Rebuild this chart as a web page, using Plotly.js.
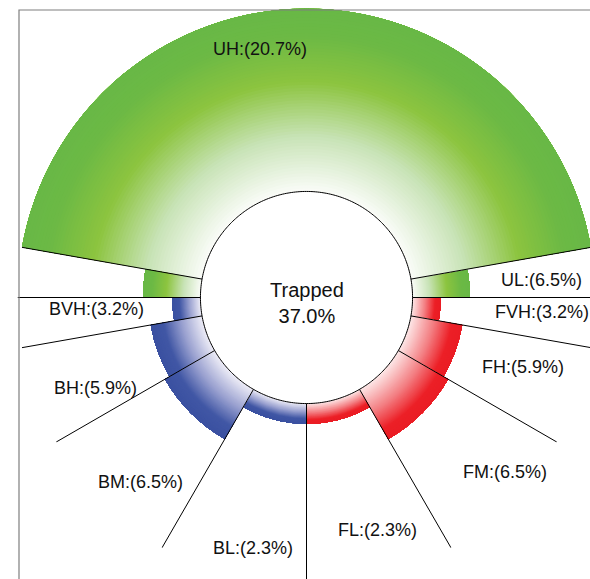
<!DOCTYPE html>
<html><head><meta charset="utf-8">
<script src="https://cdn.plot.ly/plotly-3.0.1.min.js"></script>
<style>html,body{margin:0;padding:0;overflow:hidden;background:#fff}#chart{width:600px;height:590px}</style>
</head><body><div id="chart"></div>
<script>
// ---------- data ----------
const categories = ['UH','UL','FVH','FH','FM','FL','BL','BM','BH','BVH'];
const percents   = [20.7, 6.5, 3.2, 5.9, 6.5, 2.3, 2.3, 6.5, 5.9, 3.2];
const groups     = ['U','U','F','F','F','F','B','B','B','B'];
// angular bins (deg, counter-clockwise from east) covered by each category
const wedgeCategory = ['UL','UH','UL','FVH','FH','FM','FL','BL','BM','BH','BVH'];
const wedgeStart    = [0, 10, 170, -10, -30, -60, -90, -120, -150, -170, -180];
const wedgeEnd      = [10, 170, 180, 0, -10, -30, -60, -90, -120, -150, -170];
const trappedLabel = 'Trapped';
const trappedPercent = 37.0;

// ---------- style / layout ----------
const W = 600, H = 590;
const CX = 306.5, CY = 297.5, R = 289;
const innerRadius = 12;          // hole, in percent units
const NB = 60;                   // gradient bands per wedge
const FONT = 'Liberation Sans, Arial, Helvetica, sans-serif';
const gradients = {
  U: [[0,'#fafcf8'],[0.3,'#c8e3b6'],[0.6,'#8cc43f'],[0.85,'#6cb945'],[1,'#68b846']],
  F: [[0,'#fde8e8'],[0.45,'#f37e82'],[0.8,'#ec2027'],[1,'#ea1d25']],
  B: [[0,'#eeedf7'],[0.4,'#9aa1d0'],[0.75,'#4157a5'],[1,'#3b51a1']]
};
const labelPx = {
  UH:[260,49.5], UL:[541.5,280], FVH:[542,311.7], FH:[523,367], FM:[504.5,472.3],
  FL:[377,530], BL:[252.5,548.3], BM:[140,481.7], BH:[95,388.3], BVH:[97,309.3]
};
const trappedPx = [306.5, 303.3];

function hex2rgb(h){return [1,3,5].map(i=>parseInt(h.substr(i,2),16));}
function grad(stops,t){
  for(let i=1;i<stops.length;i++){
    if(t<=stops[i][0]){
      const a=stops[i-1],b=stops[i];const f=(t-a[0])/(b[0]-a[0]);
      const ca=hex2rgb(a[1]),cb=hex2rgb(b[1]);
      return 'rgb('+ca.map((v,k)=>Math.round(v+(cb[k]-v)*f)).join(',')+')';
    }
  }
  return stops[stops.length-1][1];
}

const maxP = Math.max(...percents);
const outer = innerRadius + maxP;
const traces = [];
wedgeCategory.forEach((cat,w)=>{
  const idx = categories.indexOf(cat);
  const p = percents[idx], g = gradients[groups[idx]];
  const th = (wedgeStart[w]+wedgeEnd[w])/2, span = Math.abs(wedgeEnd[w]-wedgeStart[w]);
  const r=[],base=[],theta=[],width=[],col=[];
  // each band runs from its start to the wedge's outer edge; later (outer) bands cover earlier ones -> no seams
  for(let i=0;i<NB;i++){
    base.push(innerRadius + p*i/NB); r.push(p - p*i/NB);
    theta.push(th); width.push(span); col.push(grad(g,(i+0.5)/NB));
  }
  traces.push({type:'barpolar', r, base, theta, width,
    marker:{color:col, line:{width:0}}, hoverinfo:'skip', showlegend:false});
});
// separator lines at wedge boundaries
const bAngles = [...new Set(wedgeStart.concat(wedgeEnd))];
const lr=[], lt=[];
bAngles.forEach(a=>{lr.push(innerRadius, outer, null); lt.push(a, a, null);});
traces.push({type:'scatterpolar', mode:'lines', r:lr, theta:lt,
  line:{color:'#000', width:1}, hoverinfo:'skip', showlegend:false});
// inner circle
const cr=[], ct=[];
for(let a=0;a<=360;a+=1){cr.push(innerRadius); ct.push(a);}
traces.push({type:'scatterpolar', mode:'lines', r:cr, theta:ct,
  line:{color:'#000', width:1}, hoverinfo:'skip', showlegend:false});

const annotations = categories.map((c,i)=>({
  text: c+':('+percents[i].toFixed(1)+'%)', xref:'paper', yref:'paper',
  x: labelPx[c][0]/W, y: 1-labelPx[c][1]/H, xanchor:'center', yanchor:'middle',
  showarrow:false, font:{family:FONT, size:18, color:'#111'}
}));
annotations.push({text: trappedLabel+'<br>'+trappedPercent.toFixed(1)+'%', xref:'paper', yref:'paper',
  x: trappedPx[0]/W, y: 1-trappedPx[1]/H, xanchor:'center', yanchor:'middle', showarrow:false,
  font:{family:FONT, size:20, color:'#111'}});

const layout = {
  width:W, height:H, margin:{l:0,r:0,t:0,b:0}, paper_bgcolor:'#fff', showlegend:false,
  font:{family:FONT},
  polar:{
    domain:{x:[(CX-R)/W,(CX+R)/W], y:[1-(CY+R)/H, 1-(CY-R)/H]},
    bgcolor:'rgba(0,0,0,0)', barmode:'overlay',
    radialaxis:{range:[0,outer], visible:false},
    angularaxis:{visible:false, rotation:0, direction:'counterclockwise'}
  },
  shapes:[{type:'rect', xref:'paper', yref:'paper', x0:19/W, x1:1.1, y0:-0.1, y1:1-10/H,
    line:{color:'#7f7f7f', width:1.2}, fillcolor:'rgba(0,0,0,0)'}],
  annotations
};
Plotly.newPlot('chart', traces, layout, {staticPlot:true, displayModeBar:false});
</script></body></html>
